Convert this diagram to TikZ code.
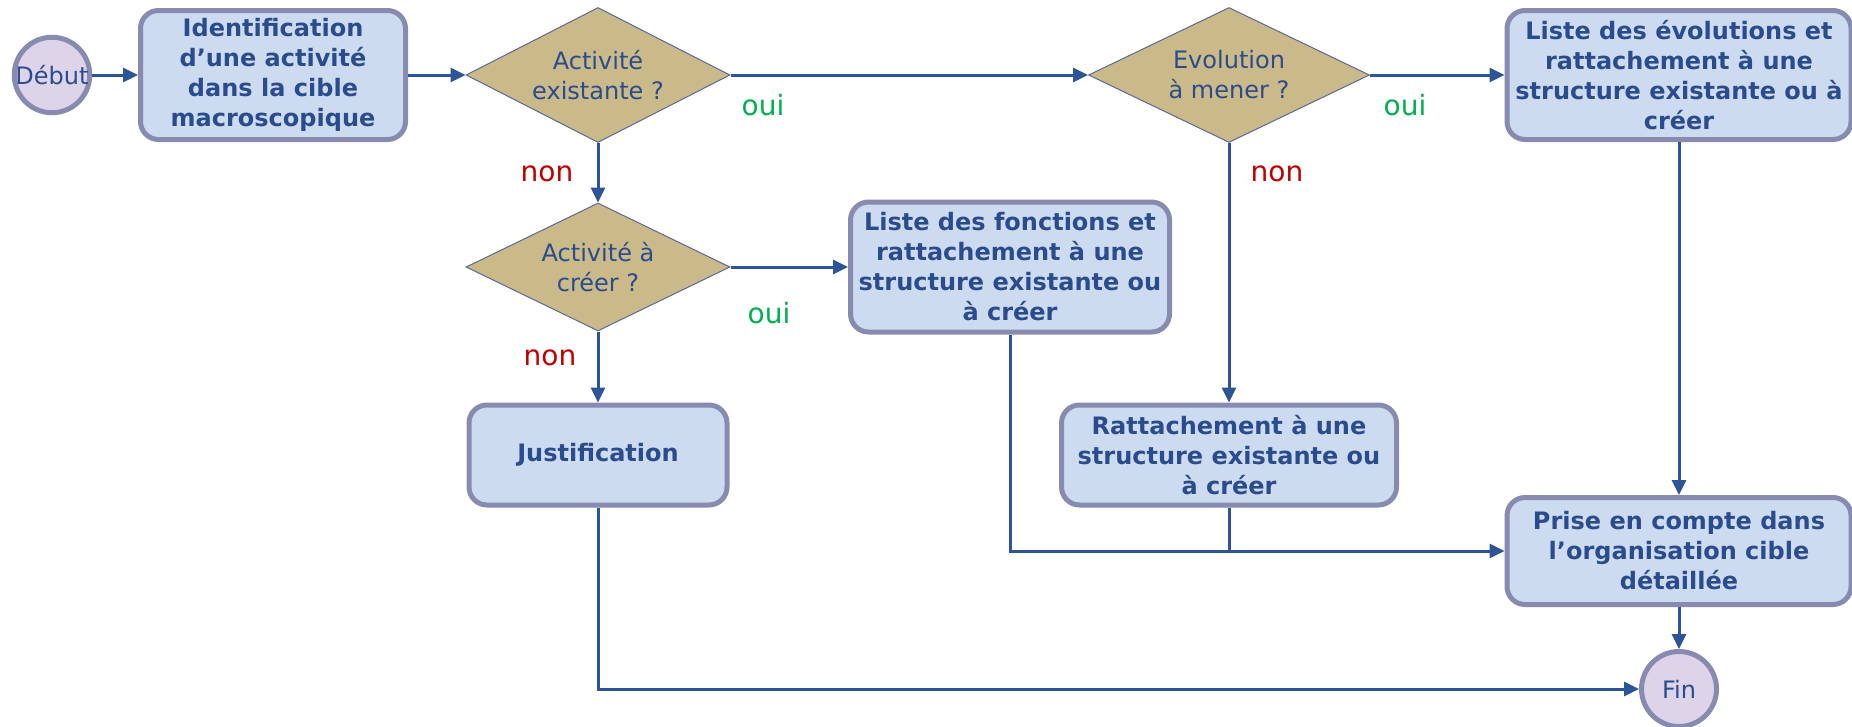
\documentclass[tikz,border=0pt]{standalone}
\usepackage{fontspec}
\setmainfont{DejaVu Sans}
\usetikzlibrary{shapes.geometric,arrows.meta}
\definecolor{boxfill}{RGB}{205,219,241}
\definecolor{boxborder}{RGB}{134,139,175}
\definecolor{txt}{RGB}{43,76,140}
\definecolor{dfill}{RGB}{202,185,137}
\definecolor{dborder}{RGB}{90,105,150}
\definecolor{cfill}{RGB}{222,212,234}
\definecolor{conn}{RGB}{44,84,150}
\definecolor{ouigreen}{RGB}{0,176,80}
\definecolor{nonred}{RGB}{192,0,0}
\tikzset{
  box/.style={draw=boxborder, line width=5pt, fill=boxfill, rounded corners=18pt,
    text=txt, font=\fontsize{24}{30}\selectfont\bfseries, align=center, inner sep=0pt},
  dia/.style={shape=diamond, draw=dborder, fill=dfill, line width=1pt, inner sep=0pt},
  dtext/.style={text=txt, font=\fontsize{24}{30}\selectfont, align=center, inner sep=0pt},
  circ/.style={shape=circle, draw=boxborder, fill=cfill, line width=5pt, minimum size=75pt,
    inner sep=0pt, text=txt, font=\fontsize{24}{30}\selectfont},
  arr/.style={draw=conn, line width=3pt, -{Triangle[length=15pt,width=14pt]}},
  plain/.style={draw=conn, line width=3pt},
  oui/.style={text=ouigreen, font=\fontsize{28}{34}\selectfont, inner sep=0pt},
  non/.style={text=nonred, font=\fontsize{28}{34}\selectfont, inner sep=0pt}
}
\begin{document}
\begin{tikzpicture}[x=1pt,y=-1pt]
\useasboundingbox (0,0) rectangle (1852,726);
% nodes
\node[circ] (debut) at (52,75) {Début};
\node[box, minimum width=265pt, minimum height=129pt] (ident) at (273,75)
  {Identification\\d’une activité\\dans la cible\\macroscopique};
\node[dia, minimum width=264pt, minimum height=135pt] (d1) at (598,75) {};
\node[dtext] (t1) at (d1) {Activité\\existante ?};
\node[dia, minimum width=281pt, minimum height=135pt] (d2) at (1229,75) {};
\node[dtext] (t2) at (d2) {Evolution\\à mener ?};
\node[box, minimum width=344pt, minimum height=129pt] (evol) at (1679,75)
  {Liste des évolutions et\\rattachement à une\\structure existante ou à\\créer};
\node[dia, minimum width=264pt, minimum height=128pt] (d3) at (598,267) {};
\node[dtext] (t3) at (d3) {Activité à\\créer ?};
\node[box, minimum width=319pt, minimum height=130pt] (fonc) at (1010,267)
  {Liste des fonctions et\\rattachement à une\\structure existante ou\\à créer};
\node[box, minimum width=258pt, minimum height=100pt] (just) at (598,455) {Justification};
\node[box, minimum width=335pt, minimum height=100pt] (ratt) at (1229,455)
  {Rattachement à une\\structure existante ou\\à créer};
\node[box, minimum width=344pt, minimum height=107pt] (prise) at (1679,551)
  {Prise en compte dans\\l’organisation cible\\détaillée};
\node[circ] (fin) at (1679,689) {Fin};
% labels
\node[oui] (o1) at (763,105) {oui};
\node[oui] (o2) at (1405,105) {oui};
\node[oui] (o3) at (769,313) {oui};
\node[non] (n1) at (547,174) {non};
\node[non] (n2) at (1277,174) {non};
\node[non] (n3) at (550,358) {non};
% connectors
\draw[arr] (debut) -- (ident);
\draw[arr] (ident) -- (d1);
\draw[arr] (d1) -- (d2);
\draw[arr] (d2) -- (evol);
\draw[arr] (d1) -- (d3);
\draw[arr] (d3) -- (fonc);
\draw[arr] (d3) -- (just);
\draw[arr] (d2) -- (ratt);
\draw[arr] (evol) -- (prise);
\draw[arr] (prise) -- (fin);
\draw[arr] (fonc.south) |- (prise.west);
\draw[plain] (ratt.south) -- (ratt.south |- prise.west);
\draw[arr] (just.south) |- (fin.west);
\end{tikzpicture}
\end{document}
